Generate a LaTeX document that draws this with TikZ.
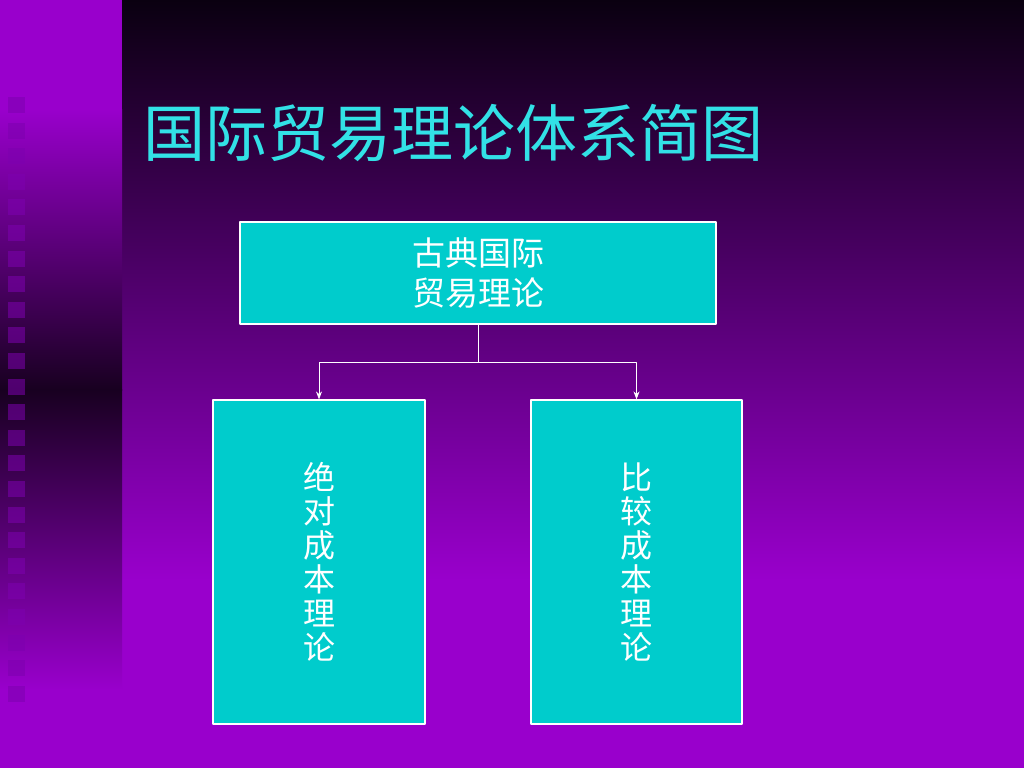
\documentclass[tikz,border=0pt]{standalone}
\usepackage{fontspec}
\newfontfamily\cjk{Noto Sans CJK SC}
\usetikzlibrary{arrows.meta}
\definecolor{bgpurple}{RGB}{153,0,204}
\definecolor{bgdark}{RGB}{10,0,16}
\definecolor{stripdark}{RGB}{24,0,32}
\definecolor{squarepurple}{RGB}{125,0,175}
\definecolor{boxcyan}{RGB}{0,204,204}
\definecolor{titlecyan}{RGB}{50,225,230}
\begin{document}
\begin{tikzpicture}[x=1pt, y=-1pt, line join=round,
		theorybox/.style={draw=white, line width=1.2pt, fill=boxcyan, text=white, inner sep=0pt, align=center},
		branch/.style={draw=white, line width=0.8pt},
		branchtip/.style={-{Stealth[length=8pt, width=6pt]}}]
			% Define parameters
			\def\stripw{122} % Width of the left strip
			\def\sqpitch{25.6} % Spacing of the strip squares
			
			\useasboundingbox (0,0) rectangle (1024,768);
			
			% Main background (dark at top, purple at bottom)
			\shade[top color=bgdark, bottom color=bgpurple] (\stripw,0) rectangle (1024,580);
			\fill[bgpurple] (\stripw,579) rectangle (1024,768);
			
			% Left strip (purple, dark in the middle, purple again)
			\fill[bgpurple] (0,0) rectangle (\stripw,110);
			\shade[top color=bgpurple, bottom color=stripdark] (0,109) rectangle (\stripw,390);
			\shade[top color=stripdark, bottom color=bgpurple] (0,389) rectangle (\stripw,690);
			\fill[bgpurple] (0,689) rectangle (\stripw,768);
			
			% Squares down the strip
			\foreach \i in {0,...,23}
				\fill[squarepurple, opacity=0.55] (8,97+\sqpitch*\i) rectangle ++(17,16);
			
			% Title
			\node[anchor=west, inner sep=0pt, text=titlecyan, font=\cjk\fontsize{62}{62}\selectfont] (title) at (143,133) {国际贸易理论体系简图};
			
			% Theory boxes
			\node[theorybox, minimum width=476pt, minimum height=102pt, font=\cjk\fontsize{33}{40}\selectfont] (classic) at (478,273) {古典国际\\贸易理论};
			\node[theorybox, minimum width=212pt, minimum height=324pt, font=\cjk\fontsize{32}{34}\selectfont] (absolute) at (319,562) {绝\\对\\成\\本\\理\\论};
			\node[theorybox, minimum width=211pt, minimum height=324pt, font=\cjk\fontsize{32}{34}\selectfont] (comparative) at (636.5,562) {比\\较\\成\\本\\理\\论};
			
			% Fork point below the top box
			\coordinate (fork) at (478,362);
			
			% Connectors
			\draw[branch] (classic.south) -- (fork);
			\draw[branch, branchtip] (fork) -| (absolute.north);
			\draw[branch, branchtip] (fork) -| (comparative.north);
			
		\end{tikzpicture}
\end{document}
